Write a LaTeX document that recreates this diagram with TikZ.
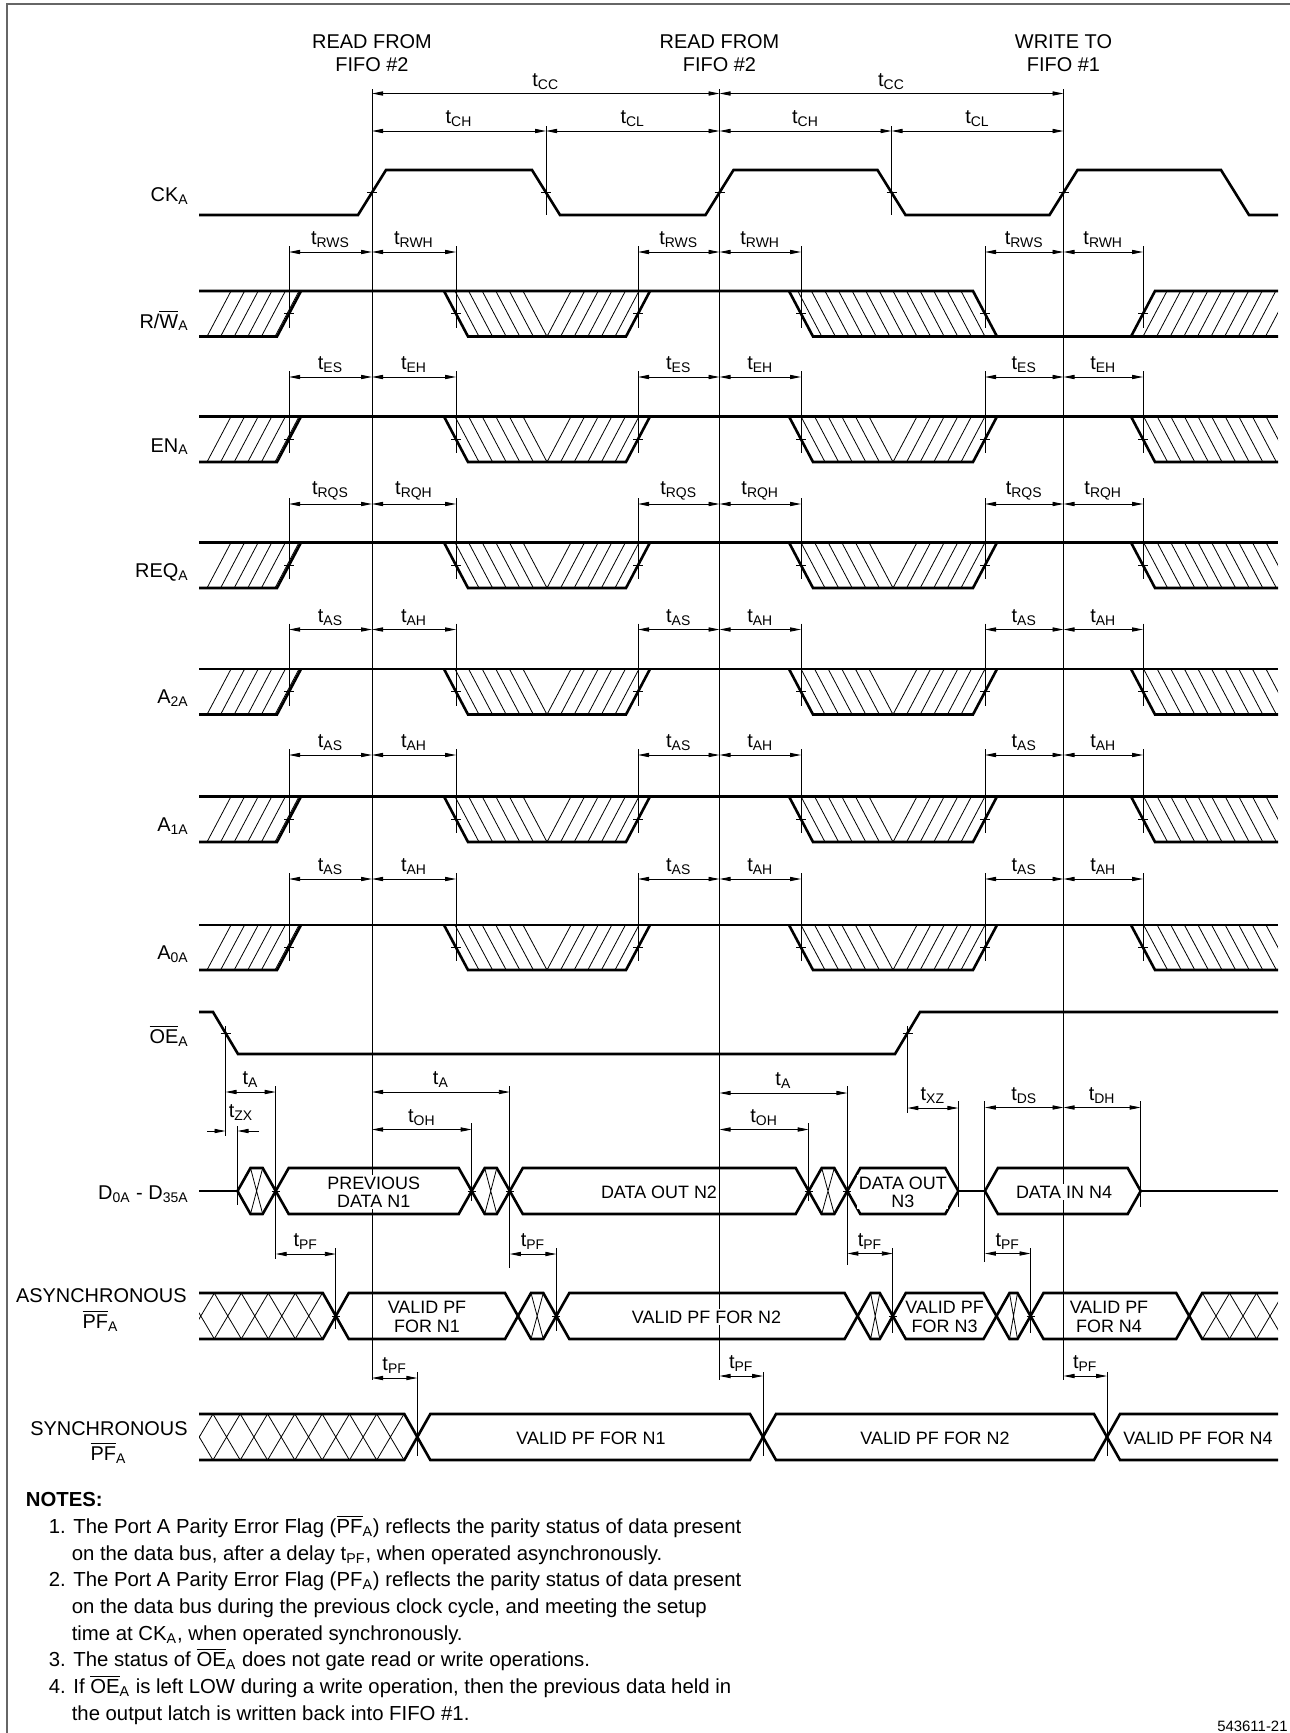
\documentclass[tikz,border=0pt]{standalone}
\usepackage{fontspec}
\setmainfont{Liberation Sans}
\usetikzlibrary{arrows.meta}

% time marks on the pixel grid
\newcommand{\xL}{199}
\newcommand{\xR}{1278}
\newcommand{\edgeA}{372}
\newcommand{\edgeB}{719.5}
\newcommand{\edgeC}{1063.5}
\newcommand{\fallA}{546}
\newcommand{\fallB}{891.5}
\newcommand{\setA}{289}
\newcommand{\holdA}{456}
\newcommand{\setB}{638}
\newcommand{\holdB}{801}
\newcommand{\setC}{985}
\newcommand{\holdC}{1143}
\newcommand{\midA}{547}
\newcommand{\midB}{893}

\tikzset{
  sigln/.style={line width=1.3bp, line join=miter},
  refln/.style={line width=0.45bp},
  hatchln/.style={line width=0.4bp},
  dimln/.style={line width=0.45bp, {Triangle[length=5.5bp,width=2.1bp]}-{Triangle[length=5.5bp,width=2.1bp]}},
  dimtip/.style={line width=0.45bp, -{Triangle[length=5.5bp,width=2.1bp]}},
  tlabel/.style={font=\fontsize{10}{12}\selectfont, anchor=south, inner sep=0.6bp, yshift=1.2bp},
  siglabel/.style={font=\fontsize{10}{12}\selectfont, anchor=base east, inner sep=0pt},
  toplabel/.style={font=\fontsize{10}{12}\selectfont, anchor=base, inner sep=0pt},
  boxtext/.style={font=\fontsize{9}{9.2}\selectfont, align=center, fill=white, inner sep=0.8bp},
  notetext/.style={font=\fontsize{10.2}{12}\selectfont, anchor=base west, inner sep=0pt},
}

% hatching, clipped by the caller
\newcommand{\hatchup}[4]{%
  \foreach \k in {0,...,#2}{\draw[hatchln] ({#1+13.6*\k},#4) -- ++(24,{#3-#4});}}
\newcommand{\hatchdown}[4]{%
  \foreach \k in {0,...,#2}{\draw[hatchln] ({#1-13.6*\k},#4) -- ++(-24,{#3-#4});}}

% setup / hold marks of one row
\newcommand{\timedims}[6]{%
  \foreach \xe in {\setA,\holdA,\setB,\holdB,\setC,\holdC}{%
    \draw[refln] (\xe,{#4-6}) -- (\xe,{#3-9});
    \draw[refln] ({\xe-5},{(#2+#3)/2}) -- ({\xe+5},{(#2+#3)/2});
  }
  \draw[dimln] (\setA,#4) -- (\edgeA,#4) node[tlabel, midway] (#1-s1) {t\textsubscript{#5}};
  \draw[dimln] (\edgeA,#4) -- (\holdA,#4) node[tlabel, midway] (#1-h1) {t\textsubscript{#6}};
  \draw[dimln] (\setB,#4) -- (\edgeB,#4) node[tlabel, midway] (#1-s2) {t\textsubscript{#5}};
  \draw[dimln] (\edgeB,#4) -- (\holdB,#4) node[tlabel, midway] (#1-h2) {t\textsubscript{#6}};
  \draw[dimln] (\setC,#4) -- (\edgeC,#4) node[tlabel, midway] (#1-s3) {t\textsubscript{#5}};
  \draw[dimln] (\edgeC,#4) -- (\holdC,#4) node[tlabel, midway] (#1-h3) {t\textsubscript{#6}};
}

% control input valid around each rising edge
\newcommand{\ctlrow}[6]{%
  \begin{scope}
    \clip (\xL,#3) -- ({\setA-12},#3) -- ({\setA+12},#2) -- (\xL,#2) -- cycle;
    \hatchup{207}{7}{#2}{#3}
  \end{scope}
  \begin{scope}
    \clip ({\holdA-12},#2) -- ({\holdA+12},#3) -- ({\setB-12},#3) -- ({\setB+12},#2) -- cycle;
    \hatchdown{\midA}{8}{#2}{#3}
    \hatchup{\midA}{8}{#2}{#3}
  \end{scope}
  \begin{scope}
    \clip ({\holdB-12},#2) -- ({\holdB+12},#3) -- ({\setC-12},#3) -- ({\setC+12},#2) -- cycle;
    \hatchdown{\midB}{8}{#2}{#3}
    \hatchup{\midB}{8}{#2}{#3}
  \end{scope}
  \begin{scope}
    \clip ({\holdC-12},#2) -- ({\holdC+12},#3) -- (\xR,#3) -- (\xR,#2) -- cycle;
    \hatchdown{1290}{12}{#2}{#3}
  \end{scope}
  \draw[sigln] (\xL,#2) -- (\xR,#2);
  \draw[sigln] (\xL,#3) -- ({\setA-12},#3) -- ({\setA+12},#2);
  \draw[sigln] ({\holdA-12},#2) -- ({\holdA+12},#3) -- ({\setB-12},#3) -- ({\setB+12},#2);
  \draw[sigln] ({\holdB-12},#2) -- ({\holdB+12},#3) -- ({\setC-12},#3) -- ({\setC+12},#2);
  \draw[sigln] ({\holdC-12},#2) -- ({\holdC+12},#3) -- (\xR,#3);
  \timedims{#1}{#2}{#3}{#4}{#5}{#6}
}

% bus value and bus crossing
\newcommand{\dbox}[6]{%
  \draw[sigln] (#2,#4) -- ({#2+13},{#4-23}) -- ({#3-13},{#4-23}) -- (#3,#4) -- ({#3-13},{#4+23}) -- ({#2+13},{#4+23}) -- cycle;
  \node[boxtext] (#1) at (#5,{#4+1}) {#6};}
\newcommand{\xzone}[3]{%
  \draw[hatchln] ({#1+13},{#3-23}) -- ({#2-13},{#3+23}) ({#1+13},{#3+23}) -- ({#2-13},{#3-23});
  \draw[sigln] (#1,#3) -- ({#1+13},{#3-23}) -- ({#2-13},{#3-23}) -- (#2,#3) -- ({#2-13},{#3+23}) -- ({#1+13},{#3+23}) -- cycle;}
\newcommand{\xband}[4]{%
  \begin{scope}
    \clip (#1,{#3-23}) -- ({#2-13},{#3-23}) -- (#2,#3) -- ({#2-13},{#3+23}) -- (#1,{#3+23}) -- cycle;
    \foreach \cx in {#4}{\draw[hatchln] ({\cx-13.6},{#3-23}) -- ({\cx+13.6},{#3+23}) ({\cx-13.6},{#3+23}) -- ({\cx+13.6},{#3-23});}
  \end{scope}
  \draw[sigln] (#1,{#3-23}) -- ({#2-13},{#3-23}) -- (#2,#3) -- ({#2-13},{#3+23}) -- (#1,{#3+23});}

\begin{document}
\begin{tikzpicture}[x=0.5bp, y=-0.5bp]
  \useasboundingbox (0,0) rectangle (1290,1733);
  \draw[line width=0.7bp, black!60] (7,1733) -- (7,4) -- (1290,4);

  % headers
  \node[toplabel] (hdA) at (\edgeA,48.3) {READ FROM};
  \node[toplabel] (hdAb) at (\edgeA,71) {FIFO \#2};
  \node[toplabel] (hdB) at (\edgeB,48.3) {READ FROM};
  \node[toplabel] (hdBb) at (\edgeB,71) {FIFO \#2};
  \node[toplabel] (hdC) at (\edgeC,48.3) {WRITE TO};
  \node[toplabel] (hdCb) at (\edgeC,71) {FIFO \#1};

  % clock reference lines
  \foreach \xe in {\edgeA,\edgeB,\edgeC}{\draw[refln] (\xe,89) -- (\xe,1380);}
  \draw[refln] (\fallA,126) -- (\fallA,215);
  \draw[refln] (\fallB,126) -- (\fallB,215);
  \draw[dimln] (\edgeA,93.5) -- (\edgeB,93.5) node[tlabel, midway] (tcc1) {t\textsubscript{CC}};
  \draw[dimln] (\edgeB,93.5) -- (\edgeC,93.5) node[tlabel, midway] (tcc2) {t\textsubscript{CC}};
  \draw[dimln] (\edgeA,131) -- (\fallA,131) node[tlabel, midway] (tch1) {t\textsubscript{CH}};
  \draw[dimln] (\fallA,131) -- (\edgeB,131) node[tlabel, midway] (tcl1) {t\textsubscript{CL}};
  \draw[dimln] (\edgeB,131) -- (\fallB,131) node[tlabel, midway] (tch2) {t\textsubscript{CH}};
  \draw[dimln] (\fallB,131) -- (\edgeC,131) node[tlabel, midway] (tcl2) {t\textsubscript{CL}};

  % CK_A
  \node[siglabel] (ck) at (189,201.5) {CK\textsubscript{A}};
  \draw[sigln] (\xL,215) -- ({\edgeA-14},215) -- ({\edgeA+14},170) -- ({\fallA-14},170) -- ({\fallA+14},215)
    -- ({\edgeB-14},215) -- ({\edgeB+14},170) -- ({\fallB-14},170) -- ({\fallB+14},215)
    -- ({\edgeC-14},215) -- ({\edgeC+14},170) -- (1221,170) -- (1249,215) -- (\xR,215);
  \foreach \xe in {\edgeA,\fallA,\edgeB,\fallB,\edgeC}{\draw[refln] ({\xe-5},192.5) -- ({\xe+5},192.5);}

  % R/W_A
  \node[siglabel] (rw) at (189,328) {R/$\overline{\mbox{W}}$\textsubscript{A}};
  \begin{scope}
    \clip (\xL,336.5) -- ({\setA-12},336.5) -- ({\setA+12},291) -- (\xL,291) -- cycle;
    \hatchup{207}{7}{291}{336.5}
  \end{scope}
  \begin{scope}
    \clip ({\holdA-12},291) -- ({\holdA+12},336.5) -- ({\setB-12},336.5) -- ({\setB+12},291) -- cycle;
    \hatchdown{\midA}{8}{291}{336.5}
    \hatchup{\midA}{8}{291}{336.5}
  \end{scope}
  \begin{scope}
    \clip ({\holdB-12},291) -- ({\holdB+12},336.5) -- ({\setC+12},336.5) -- ({\setC-12},291) -- cycle;
    \hatchdown{\setC}{16}{291}{336.5}
  \end{scope}
  \begin{scope}
    \clip ({\holdC-12},336.5) -- ({\holdC+12},291) -- (\xR,291) -- (\xR,336.5) -- cycle;
    \hatchup{\holdC}{12}{291}{336.5}
  \end{scope}
  \draw[sigln] (\xL,291) -- ({\setC-12},291) -- ({\setC+12},336.5);
  \draw[sigln] ({\holdC-12},336.5) -- ({\holdC+12},291) -- (\xR,291);
  \draw[sigln] (\xL,336.5) -- ({\setA-12},336.5) -- ({\setA+12},291);
  \draw[sigln] ({\holdA-12},291) -- ({\holdA+12},336.5) -- ({\setB-12},336.5) -- ({\setB+12},291);
  \draw[sigln] ({\holdB-12},291) -- ({\holdB+12},336.5) -- (\xR,336.5);
  \timedims{rw}{291}{336.5}{252}{RWS}{RWH}

  % EN_A, REQ_A, A_2A, A_1A, A_0A
  \node[siglabel] (en) at (189,452) {EN\textsubscript{A}};
  \ctlrow{en}{416.5}{462}{377}{ES}{EH}
  \node[siglabel] (rq) at (189,577.5) {REQ\textsubscript{A}};
  \ctlrow{rq}{542.5}{588}{504}{RQS}{RQH}
  \node[siglabel] (aa) at (189,703) {A\textsubscript{2A}};
  \ctlrow{aa}{669}{714.5}{629.5}{AS}{AH}
  \node[siglabel] (ab) at (189,831) {A\textsubscript{1A}};
  \ctlrow{ab}{796.5}{842}{755}{AS}{AH}
  \node[siglabel] (ac) at (189,959.5) {A\textsubscript{0A}};
  \ctlrow{ac}{925}{970}{879}{AS}{AH}

  % OE_A
  \node[siglabel] (oe) at (189,1043) {$\overline{\mbox{OE}}$\textsubscript{A}};
  \draw[sigln] (\xL,1012) -- (213,1012) -- (238,1054) -- (895,1054) -- (920,1012) -- (\xR,1012);
  \draw[refln] (220.5,1033) -- (230.5,1033);
  \draw[refln] (902.5,1033) -- (912.5,1033);

  % data bus marks
  \draw[refln] (225.5,1026) -- (225.5,1136);
  \draw[refln] (237.5,1126) -- (237.5,1205);
  \draw[refln] (275.7,1086) -- (275.7,1259);
  \draw[refln] (471.7,1123) -- (471.7,1201);
  \draw[refln] (509.8,1086) -- (509.8,1268);
  \draw[refln] (808.7,1123) -- (808.7,1201);
  \draw[refln] (847.3,1086) -- (847.3,1265);
  \draw[refln] (907.4,1026) -- (907.4,1113);
  \draw[refln] (958.3,1101) -- (958.3,1207);
  \draw[refln] (984.9,1101) -- (984.9,1262);
  \draw[refln] (1140.7,1101) -- (1140.7,1207);
  \draw[dimln] (225.5,1092) -- (275.7,1092) node[tlabel, midway] (ta0) {t\textsubscript{A}};
  \draw[dimtip] (207,1131) -- (225.5,1131);
  \draw[dimtip] (259,1131) -- (237.5,1131);
  \node[tlabel] (tzx) at (241,1124) {t\textsubscript{ZX}};
  \draw[dimln] (\edgeA,1092) -- (509.8,1092) node[tlabel, midway] (ta1) {t\textsubscript{A}};
  \draw[dimln] (\edgeA,1129.5) -- (471.7,1129.5) node[tlabel, midway] (toh1) {t\textsubscript{OH}};
  \draw[dimln] (\edgeB,1093) -- (847.3,1093) node[tlabel, midway] (ta2) {t\textsubscript{A}};
  \draw[dimln] (\edgeB,1129.5) -- (808.7,1129.5) node[tlabel, midway] (toh2) {t\textsubscript{OH}};
  \draw[dimln] (907.4,1108) -- (958.3,1108) node[tlabel, midway] (txz) {t\textsubscript{XZ}};
  \draw[dimln] (984.9,1107.5) -- (\edgeC,1107.5) node[tlabel, midway] (tds) {t\textsubscript{DS}};
  \draw[dimln] (\edgeC,1107.5) -- (1140.7,1107.5) node[tlabel, midway] (tdh) {t\textsubscript{DH}};

  % D_0A - D_35A
  \node[siglabel] (dbus) at (189,1199) {D\textsubscript{0A} - D\textsubscript{35A}};
  \draw[sigln] (\xL,1191) -- (237.5,1191);
  \xzone{237.5}{275.7}{1191}
  \dbox{dn1}{275.7}{471.7}{1191}{373.7}{PREVIOUS\\DATA N1}
  \xzone{471.7}{509.8}{1191}
  \dbox{dn2}{509.8}{808.7}{1191}{659}{DATA OUT N2}
  \xzone{808.7}{847.3}{1191}
  \dbox{dn3}{847.3}{958.3}{1191}{902.8}{DATA OUT\\N3}
  \draw[sigln] (958.3,1191) -- (984.9,1191);
  \dbox{dn4}{984.9}{1140.7}{1191}{1064}{DATA IN N4}
  \draw[sigln] (1140.7,1191) -- (\xR,1191);
  \foreach \xe in {275.7,471.7,509.8,808.7,847.3}{\draw[refln] ({\xe-4},1191) -- ({\xe+4},1191);}

  % asynchronous parity flag
  \draw[refln] (335.8,1248) -- (335.8,1329);
  \draw[refln] (556.3,1248) -- (556.3,1331);
  \draw[refln] (892.8,1248) -- (892.8,1333);
  \draw[refln] (1030.5,1248) -- (1030.5,1333);
  \draw[dimln] (275.7,1254) -- (335.8,1254) node[tlabel, midway] (tpf1) {t\textsubscript{PF}};
  \draw[dimln] (509.8,1254) -- (556.3,1254) node[tlabel, midway] (tpf2) {t\textsubscript{PF}};
  \draw[dimln] (847.3,1253.5) -- (892.8,1253.5) node[tlabel, midway] (tpf3) {t\textsubscript{PF}};
  \draw[dimln] (984.9,1253.5) -- (1030.5,1253.5) node[tlabel, midway] (tpf4) {t\textsubscript{PF}};
  \node[siglabel] (apf) at (187,1302) {ASYNCHRONOUS};
  \node[toplabel] (apfb) at (100.5,1328) {$\overline{\mbox{PF}}$\textsubscript{A}};
  \xband{\xL}{335.8}{1316}{200.8,227.8,254.8,281.8,308.8}
  \dbox{an1}{335.8}{518}{1316}{427}{VALID PF\\FOR N1}
  \xzone{518}{556.3}{1316}
  \dbox{an2}{556.3}{857.6}{1316}{706.5}{VALID PF FOR N2}
  \xzone{857.6}{892.8}{1316}
  \dbox{an3}{892.8}{996.5}{1316}{944.6}{VALID PF\\FOR N3}
  \xzone{996.5}{1030.5}{1316}
  \dbox{an4}{1030.5}{1189.2}{1316}{1109}{VALID PF\\FOR N4}
  \begin{scope}
    \clip (1189.2,1316) -- (1202.2,1293) -- (\xR,1293) -- (\xR,1339) -- (1202.2,1339) -- cycle;
    \foreach \cx in {1216,1243,1270,1297}{\draw[hatchln] ({\cx-13.6},1293) -- ({\cx+13.6},1339) ({\cx-13.6},1339) -- ({\cx+13.6},1293);}
  \end{scope}
  \draw[sigln] (\xR,1293) -- (1202.2,1293) -- (1189.2,1316) -- (1202.2,1339) -- (\xR,1339);
  \foreach \xe in {335.8,556.3,892.8,1030.5}{\draw[refln] ({\xe-4},1316) -- ({\xe+4},1316);}

  % synchronous parity flag
  \draw[refln] (417.3,1372) -- (417.3,1456);
  \draw[refln] (763,1372) -- (763,1456);
  \draw[refln] (1107,1372) -- (1107,1456);
  \draw[dimln] (\edgeA,1378) -- (417.3,1378) node[tlabel, midway] (tpf5) {t\textsubscript{PF}};
  \draw[dimln] (\edgeB,1376) -- (763,1376) node[tlabel, midway] (tpf6) {t\textsubscript{PF}};
  \draw[dimln] (\edgeC,1376) -- (1107,1376) node[tlabel, midway] (tpf7) {t\textsubscript{PF}};
  \node[siglabel] (spf) at (188,1435) {SYNCHRONOUS};
  \node[toplabel] (spfb) at (108.5,1460) {$\overline{\mbox{PF}}$\textsubscript{A}};
  \xband{\xL}{417.3}{1437}{199.3,226.6,253.9,281.2,308.5,335.8,363.1,390.4}
  \dbox{sn1}{417.3}{763}{1437}{591}{VALID PF FOR N1}
  \dbox{sn2}{763}{1107}{1437}{935}{VALID PF FOR N2}
  \draw[sigln] (\xR,1414) -- (1120,1414) -- (1107,1437) -- (1120,1460) -- (\xR,1460);
  \node[boxtext] (sn4) at (1198,1438) {VALID PF FOR N4};

  % notes
  \node[notetext, font=\fontsize{10.2}{12}\selectfont\bfseries] (nthead) at (25.5,1506.7) {NOTES:};
  \node[notetext] (nt1) at (48.5,1533.3) {1. The Port A Parity Error Flag ($\overline{\mbox{PF}}$\textsubscript{A}) reflects the parity status of data present};
  \node[notetext] (nt1b) at (71.4,1560) {on the data bus, after a delay t\textsubscript{PF}, when operated asynchronously.};
  \node[notetext] (nt2) at (48.5,1586.7) {2. The Port A Parity Error Flag (PF\textsubscript{A}) reflects the parity status of data present};
  \node[notetext] (nt2b) at (71.4,1613.3) {on the data bus during the previous clock cycle, and meeting the setup};
  \node[notetext] (nt2c) at (71.4,1640) {time at CK\textsubscript{A}, when operated synchronously.};
  \node[notetext] (nt3) at (48.5,1666.7) {3. The status of $\overline{\mbox{OE}}$\textsubscript{A} does not gate read or write operations.};
  \node[notetext] (nt4) at (48.5,1693.3) {4. If $\overline{\mbox{OE}}$\textsubscript{A} is left LOW during a write operation, then the previous data held in};
  \node[notetext] (nt4b) at (71.4,1720) {the output latch is written back into FIFO \#1.};
  \node[anchor=base east, inner sep=0pt, font=\fontsize{7.5}{9}\selectfont] (figno) at (1288,1731) {543611-21};
\end{tikzpicture}
\end{document}
